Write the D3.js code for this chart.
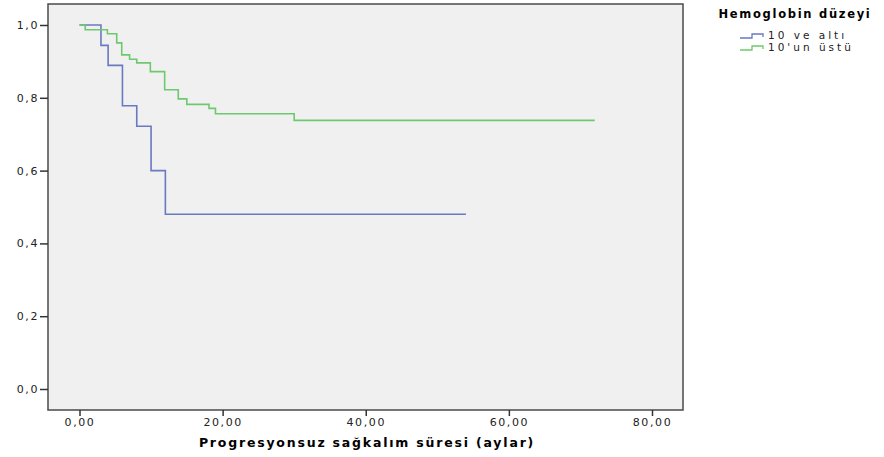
<!DOCTYPE html>
<html>
<head>
<meta charset="utf-8">
<script src="https://cdn.jsdelivr.net/npm/d3@7"></script>
<style>
  body { margin: 0; background: #fff; }
  text { font-family: "DejaVu Sans", Verdana, sans-serif; }
</style>
</head>
<body>
<svg id="chart" width="884" height="457"></svg>
<script>
// Kaplan-Meier steps: [time, survival]
const lowHb = [[0, 1.0], [3, 0.944], [4, 0.889], [6, 0.778], [8, 0.722], [10, 0.6], [12, 0.48], [54, 0.48]];
const highHb = [[0, 1.0], [0.8, 0.987], [3.9, 0.976], [5.2, 0.951], [5.9, 0.918], [7, 0.906], [8, 0.896],
  [9.9, 0.872], [11.9, 0.822], [13.8, 0.797], [15, 0.782], [18.1, 0.771], [19, 0.756], [30, 0.738], [72, 0.738]];
const xTicks = [0, 20, 40, 60, 80];
const yTicks = [0, 0.2, 0.4, 0.6, 0.8, 1.0];
const groups = ['10 ve altı', "10'un üstü"];
const colors = ['#6b78c2', '#6dc96d'];

const svg = d3.select('#chart');
const plotL = 48, plotR = 683, plotT = 4, plotB = 410;

const x = d3.scaleLinear().domain([0, 80]).range([79.5, 652]);
const y = d3.scaleLinear().domain([0, 1]).range([389, 25]);

// plot background + frame
svg.append('rect')
  .attr('x', plotL).attr('y', plotT).attr('width', plotR - plotL).attr('height', plotB - plotT)
  .attr('fill', '#f0f0f0').attr('stroke', '#4a4a4a').attr('stroke-width', 1.5);

// y axis
const yAxis = d3.axisLeft(y).tickValues(yTicks).tickSize(8).tickPadding(1)
  .tickFormat(d => d3.format('.1f')(d).replace('.', ','));
const gy = svg.append('g').attr('transform', `translate(${plotL},0)`).call(yAxis);
gy.select('.domain').remove();
gy.selectAll('line').attr('stroke', '#333').attr('stroke-width', 1.5);
gy.selectAll('text').attr('font-size', 11).attr('fill', '#222').attr('letter-spacing', '1.6px');

// x axis
const xAxis = d3.axisBottom(x).tickValues(xTicks).tickSize(6).tickPadding(2)
  .tickFormat(d => d3.format('.2f')(d).replace('.', ','));
const gx = svg.append('g').attr('transform', `translate(0,${plotB})`).call(xAxis);
gx.select('.domain').remove();
gx.selectAll('line').attr('stroke', '#333').attr('stroke-width', 1.5);
gx.selectAll('text').attr('font-size', 11).attr('fill', '#222').attr('letter-spacing', '1.6px');

svg.append('text')
  .attr('x', 367).attr('y', 447).attr('text-anchor', 'middle')
  .attr('font-size', 12.5).attr('font-weight', 700).attr('letter-spacing', '1.8px')
  .text('Progresyonsuz sağkalım süresi (aylar)');

// survival curves
const line = d3.line().x(d => x(d[0])).y(d => y(d[1])).curve(d3.curveStepAfter);
[lowHb, highHb].forEach((data, i) => {
  svg.append('path')
    .attr('d', line(data))
    .attr('fill', 'none').attr('stroke', colors[i]).attr('stroke-width', 1.6);
});

// legend
const legend = svg.append('g');
legend.append('text')
  .attr('x', 795).attr('y', 18).attr('text-anchor', 'middle')
  .attr('font-size', 11.5).attr('font-weight', 700).attr('letter-spacing', '1.7px')
  .text('Hemoglobin düzeyi');
groups.forEach((g, i) => {
  const ly = 38 + i * 12;
  legend.append('path')
    .attr('d', `M740,${ly} H752 V${ly - 4} H763 V${ly - 1}`)
    .attr('fill', 'none').attr('stroke', colors[i]).attr('stroke-width', 1.3);
  legend.append('text')
    .attr('x', 768).attr('y', ly + 1)
    .attr('font-size', 10.5).attr('fill', '#222').attr('letter-spacing', '3px')
    .text(g);
});
</script>
</body>
</html>
